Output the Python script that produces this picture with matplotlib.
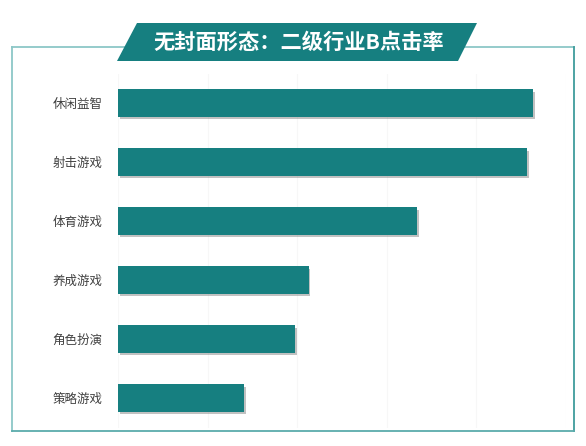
import numpy as np
import matplotlib
matplotlib.use('Agg')
import matplotlib.pyplot as plt
from matplotlib.patches import Polygon
from matplotlib.lines import Line2D
import matplotlib.patheffects as pe

plt.rcParams['font.family'] = ['Noto Sans CJK SC', 'DejaVu Sans']

# data (top to bottom)
categories = ['休闲益智', '射击游戏', '体育游戏', '养成游戏', '角色扮演', '策略游戏']
values = [4.64, 4.57, 3.34, 2.13, 1.98, 1.41]
title = '无封面形态：二级行业B点击率'

teal = '#167f80'

W, H = 586, 446
fig = plt.figure(figsize=(W / 100, H / 100), dpi=100)

# background layer in pixel coordinates for border box and banner
bg = fig.add_axes([0, 0, 1, 1])
bg.set_xlim(0, W)
bg.set_ylim(H, 0)
bg.axis('off')
bg.add_line(Line2D([12, 574], [47, 47], color='#8cc7c7', lw=1.3))
bg.add_line(Line2D([12, 12], [47, 431], color='#8cc7c7', lw=1.3))
bg.add_line(Line2D([574, 574], [47, 431], color='#3f9c9c', lw=1.3))
bg.add_line(Line2D([12, 574], [431, 431], color='#5aabab', lw=1.3))
bg.add_patch(Polygon([[137, 23], [477, 23], [458, 61], [117, 61]],
                     closed=True, facecolor=teal, edgecolor='none', zorder=5))
bg.text(299, 42, title, color='white', fontsize=15.3, fontweight='bold',
        ha='center', va='center', zorder=6)

ax = fig.add_axes([118 / W, 1 - 427.5 / H, 447.5 / W, 354 / H])
y = np.arange(len(categories))
bars = ax.barh(y, values, height=0.46, color=teal, zorder=3)
for b in bars:
    b.set_path_effects([pe.SimplePatchShadow(offset=(1.2, -1.8), shadow_rgbFace='#666666', alpha=0.4),
                        pe.Normal()])
ax.set_yticks(y)
ax.set_yticklabels(categories, fontsize=9, color='#404040')
ax.set_ylim(len(categories) - 0.5, -0.5)
ax.set_xlim(0, 5)
ax.set_xticks([0, 1, 2, 3, 4, 5])
ax.tick_params(axis='x', length=0, labelbottom=False)
ax.tick_params(axis='y', length=0, pad=11)
ax.grid(axis='x', color='#f7f7f7', lw=0.8, zorder=0)
for s in ax.spines.values():
    s.set_visible(False)
ax.patch.set_alpha(0)

fig.savefig('out.png', dpi=100)
